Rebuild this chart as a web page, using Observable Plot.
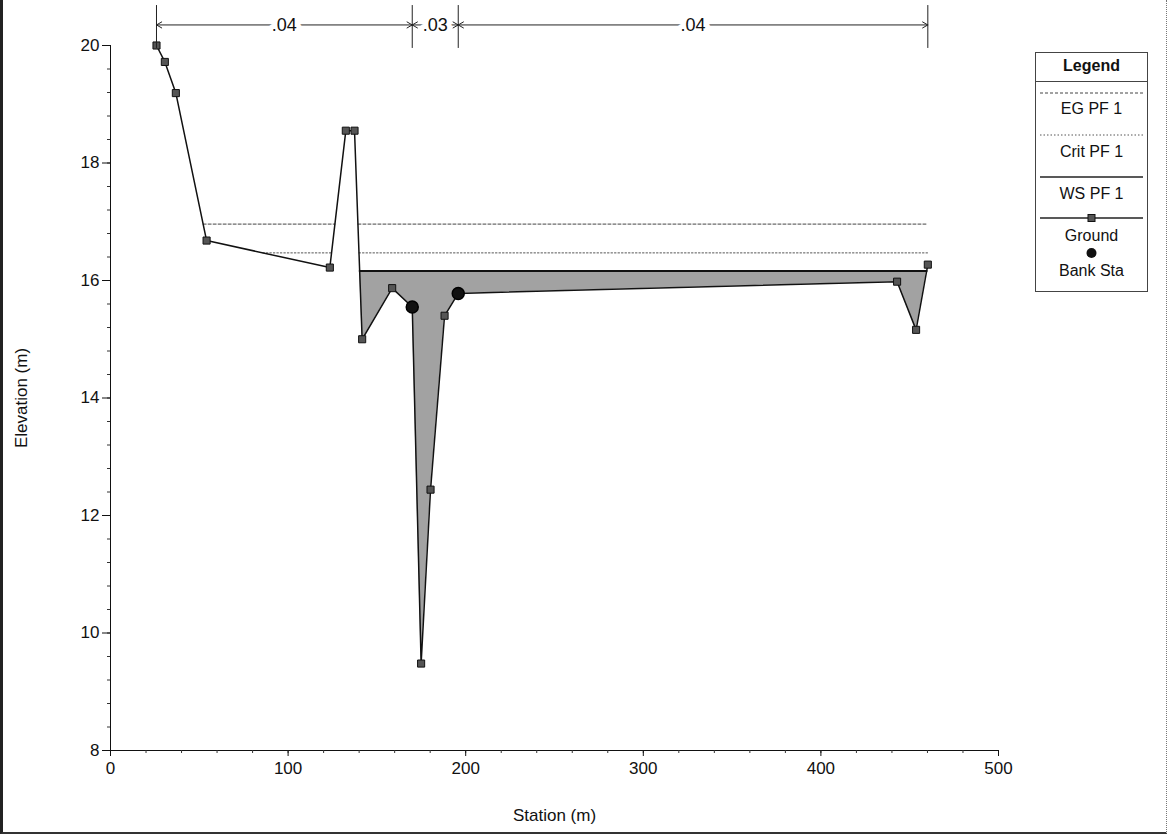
<!DOCTYPE html>
<html>
<head>
<meta charset="utf-8">
<script src="https://cdn.jsdelivr.net/npm/d3@7"></script>
<script src="https://cdn.jsdelivr.net/npm/@observablehq/plot@0.6"></script>
<style>
  html, body { margin: 0; padding: 0; background: #fff; }
  #wrap { position: relative; width: 1167px; height: 834px; overflow: hidden; font-family: "Liberation Sans", Arial, sans-serif; }
  #frame { position: absolute; left: 0; top: 0; width: 1167px; height: 834px; box-sizing: border-box;
           border-left: 3px solid #222; border-bottom: 2px solid #333; border-right: 1px dotted #777; pointer-events: none; }
  #legend { position: absolute; left: 1035px; top: 52px; width: 113px; height: 240px; box-sizing: border-box;
            border: 1px solid #444; background: #fff; font-size: 16px; color: #111; }
  #legend .head { position: absolute; left: 0; right: 0; top: 0; height: 28px; border-bottom: 1px solid #444;
                  text-align: center; font-weight: bold; line-height: 26px; }
  #legend .lab { position: absolute; left: 0; right: 0; text-align: center; line-height: 18px; }
  #legend svg { position: absolute; left: 4px; }
</style>
</head>
<body>
<div id="wrap">
  <div id="chart"></div>
  <div id="legend"></div>
  <div id="frame"></div>
</div>
<script>
// Cross-section ground points: station (m) and elevation (m)
const stations   = [25.9, 30.6, 36.8, 54.1, 123.5, 132.5, 137.4, 141.7, 158.6, 169.9, 174.9, 180.2, 188.1, 195.8, 442.9, 453.6, 460.2];
const elevations = [20.0, 19.72, 19.19, 16.68, 16.22, 18.55, 18.55, 15.0, 15.87, 15.55, 9.48, 12.44, 15.40, 15.78, 15.98, 15.16, 16.27];

// Bank stations
const bankStations   = [169.9, 195.8];
const bankElevations = [15.55, 15.78];

// Profile water levels (PF 1)
const profileNames      = ["EG PF 1", "Crit PF 1", "WS PF 1"];
const profileElevations = [16.96, 16.47, 16.16];

// Manning's n values and their station breaks
const nValueLabels = [".04", ".03", ".04"];
const nValueBreaks = [25.9, 169.9, 195.8, 460.2];

// Axis ticks
const xTickValues = [0, 100, 200, 300, 400, 500];
const yTickValues = [8, 10, 12, 14, 16, 18, 20];

const ground = stations.map((x, i) => ({x, y: elevations[i]}));
const banks = bankStations.map((x, i) => ({x, y: bankElevations[i]}));

// Parts of the section where the ground lies below a given level,
// bounded by the intersections of the level with the ground line.
function wetRegions(level) {
  const regions = [];
  let cur = null;
  for (let i = 0; i < stations.length; i++) {
    const below = elevations[i] < level;
    if (i > 0) {
      const wasBelow = elevations[i - 1] < level;
      if (below !== wasBelow) {
        const t = (level - elevations[i - 1]) / (elevations[i] - elevations[i - 1]);
        const xc = stations[i - 1] + t * (stations[i] - stations[i - 1]);
        if (below) { cur = [{x: xc, g: level}]; regions.push(cur); }
        else { cur.push({x: xc, g: level}); cur = null; }
      }
    }
    if (below) {
      if (!cur) { cur = []; regions.push(cur); }
      cur.push({x: stations[i], g: elevations[i]});
    }
  }
  return regions.flatMap((r, k) => r.map(p => ({...p, level, region: k})));
}

const [egLevel, critLevel, wsLevel] = profileElevations;
const wetArea = wetRegions(wsLevel);
const levelLine = (level) => {
  const pts = wetRegions(level);
  return d3.groups(pts, d => d.region).flatMap(([k, r]) => [
    {x: r[0].x, y: level, region: k},
    {x: r[r.length - 1].x, y: level, region: k}
  ]);
};
const egLine = levelLine(egLevel);
const critLine = levelLine(critLevel);
const wsLine = levelLine(wsLevel);

// n-value annotation bar above the section
const annY = 20.35;
const nSegments = nValueLabels.map((label, i) => ({
  label, x0: nValueBreaks[i], x1: nValueBreaks[i + 1], mid: (nValueBreaks[i] + nValueBreaks[i + 1]) / 2
}));
const nArrows = nSegments.flatMap(s => [
  {xa: s.mid, xb: s.x0},
  {xa: s.mid, xb: s.x1}
]);

const chart = Plot.plot({
  width: 1167,
  height: 834,
  marginLeft: 110,
  marginRight: 169,
  marginTop: 45,
  marginBottom: 84,
  style: {fontFamily: "Liberation Sans, Arial, sans-serif", fontSize: "17px", color: "#111", background: "#fff"},
  x: {domain: [0, 500]},
  y: {domain: [8, 20]},
  marks: [
    // water below WS
    Plot.areaY(wetArea, {x: "x", y1: "g", y2: "level", z: "region", fill: "#a2a2a2", curve: "linear"}),
    // energy grade and critical lines
    Plot.line(egLine, {x: "x", y: "y", z: "region", stroke: "#444", strokeWidth: 1, strokeDasharray: "3,2"}),
    Plot.line(critLine, {x: "x", y: "y", z: "region", stroke: "#555", strokeWidth: 1, strokeDasharray: "1.5,2"}),
    // water surface
    Plot.line(wsLine, {x: "x", y: "y", z: "region", stroke: "#111", strokeWidth: 2}),
    // ground
    Plot.line(ground, {x: "x", y: "y", stroke: "#111", strokeWidth: 1.5}),
    Plot.dot(ground, {x: "x", y: "y", symbol: "square", r: 4, fill: "#555", stroke: "#111", strokeWidth: 1}),
    Plot.dot(banks, {x: "x", y: "y", r: 6, fill: "#111", stroke: "#000"}),
    // axes
    Plot.ruleX([0], {y1: 8, y2: 20, stroke: "#111"}),
    Plot.ruleY([8], {stroke: "#111"}),
    Plot.axisY(d3.range(8, 20.001, 0.4), {tickSize: 3, tickFormat: () => "", label: null, stroke: "#333"}),
    Plot.axisY(yTickValues, {tickSize: 8, tickPadding: 3, tickFormat: "d", label: "Elevation (m)", labelAnchor: "center",
      labelArrow: "none", labelOffset: 96, fontSize: 17}),
    Plot.axisX(d3.range(0, 500.001, 20), {tickSize: 3, tickFormat: () => "", label: null, stroke: "#333"}),
    Plot.axisX(xTickValues, {tickSize: 6, tickPadding: 5, tickFormat: "d", label: "Station (m)", labelAnchor: "center",
      labelArrow: "none", labelOffset: 70, fontSize: 17}),
    // Manning's n bar
    Plot.ruleX(nValueBreaks, {y1: 19.95, y2: 20.68, stroke: "#222", strokeWidth: 1}),
    Plot.arrow(nArrows, {x1: "xa", y1: annY, x2: "xb", y2: annY, stroke: "#222", strokeWidth: 1, headLength: 9, bend: 0}),
    Plot.text(nSegments, {x: "mid", y: annY, text: "label", fontSize: 18, fill: "#111", stroke: "white", strokeWidth: 10})
  ]
});
document.getElementById("chart").appendChild(chart);

// Legend
const legend = document.getElementById("legend");
legend.innerHTML = `<div class="head">Legend</div>`;
const legendRows = [
  {name: profileNames[0], lineY: 40, textY: 56, dash: "3,2", stroke: "#444", width: 1},
  {name: profileNames[1], lineY: 82, textY: 99, dash: "1.5,2", stroke: "#555", width: 1},
  {name: profileNames[2], lineY: 124, textY: 141, dash: null, stroke: "#222", width: 1.5},
  {name: "Ground", lineY: 165, textY: 183, dash: null, stroke: "#222", width: 1.5, square: true}
];
for (const r of legendRows) {
  const s = `<svg width="103" height="10" style="top:${r.lineY - 5}px">
    <line x1="0" x2="103" y1="5" y2="5" stroke="${r.stroke}" stroke-width="${r.width}" ${r.dash ? `stroke-dasharray="${r.dash}"` : ""}/>
    ${r.square ? `<rect x="48" y="1.5" width="7" height="7" fill="#555" stroke="#111"/>` : ""}
  </svg><div class="lab" style="top:${r.textY - 9}px">${r.name}</div>`;
  legend.insertAdjacentHTML("beforeend", s);
}
legend.insertAdjacentHTML("beforeend",
  `<svg width="103" height="12" style="top:${200 - 6}px"><circle cx="51.5" cy="6" r="5" fill="#111"/></svg>
   <div class="lab" style="top:${218 - 9}px">Bank Sta</div>`);
</script>
</body>
</html>
